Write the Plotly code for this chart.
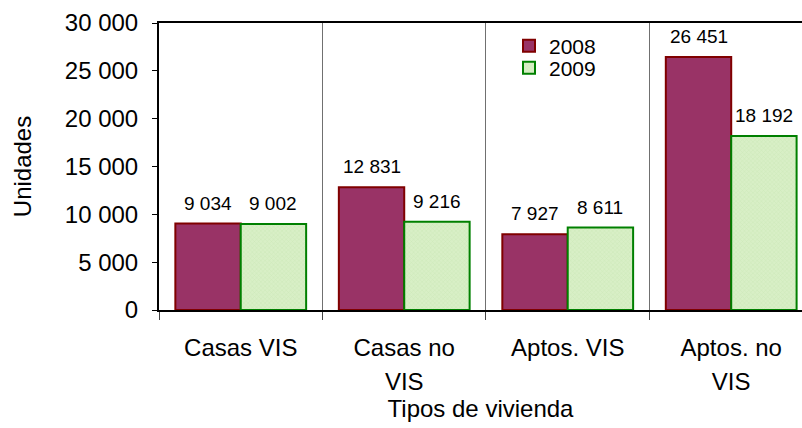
import plotly.graph_objects as go

categories = ["Casas VIS", "Casas no VIS", "Aptos. VIS", "Aptos. no VIS"]
tick_line1 = ["Casas VIS", "Casas no", "Aptos. VIS", "Aptos. no"]
tick_line2 = ["", "VIS", "", "VIS"]
series_names = ["2008", "2009"]
values_2008 = [9034, 12831, 7927, 26451]
values_2009 = [9002, 9216, 8611, 18192]
y_ticks = [0, 5000, 10000, 15000, 20000, 25000, 30000]

FONT = "Liberation Sans, Arial, sans-serif"
W, H = 802, 428
L, R, T, B = 159, 0, 23, 118
plot_w = W - L - R
plot_h = H - T - B
x_range = [-0.5, 3.433]
cat_px = plot_w / (x_range[1] - x_range[0])
bargap = 0.2
bar_px = cat_px * (1 - bargap) / 2

fig = go.Figure()
fig.add_trace(go.Bar(
    x=categories, y=values_2008, name=series_names[0], legend="legend",
    marker=dict(color="#993366", line=dict(color="#800000", width=2)),
))
fig.add_trace(go.Bar(
    x=categories, y=values_2009, name=series_names[1], legend="legend2",
    marker=dict(color="#d4ecc0", line=dict(color="#008000", width=2),
                pattern=dict(shape="x", fgcolor="#bcdca4", bgcolor="#d8efc6", size=3, solidity=0.25)),
))

annotations = []
for vals, shift in ((values_2008, -bar_px / 2), (values_2009, bar_px / 2)):
    for c, v in zip(categories, vals):
        annotations.append(dict(
            x=c, y=v, xref="x", yref="y", text=f"{v:,}".replace(",", " "),
            showarrow=False, xshift=shift, yshift=8, yanchor="bottom",
            font=dict(family=FONT, size=19, color="black"),
        ))

fig.update_layout(
    width=W, height=H,
    margin=dict(l=L, r=R, t=T, b=B, autoexpand=False),
    paper_bgcolor="white", plot_bgcolor="white",
    font=dict(family=FONT, size=24, color="black"),
    separators=", ",
    barmode="group", bargap=bargap, bargroupgap=0,
    annotations=annotations,
    legend=dict(x=(509 - L) / plot_w, y=(310 - 46) / plot_h, xanchor="left", yanchor="middle",
                bgcolor="rgba(0,0,0,0)", font=dict(size=21), borderwidth=0),
    legend2=dict(x=(509 - L) / plot_w, y=(310 - 68) / plot_h, xanchor="left", yanchor="middle",
                 bgcolor="rgba(0,0,0,0)", font=dict(size=21), borderwidth=0),
    xaxis=dict(
        type="category", range=x_range, tickson="boundaries",
        tickmode="array", tickvals=categories, ticktext=tick_line1,
        ticks="outside", ticklen=8, tickcolor="#444444", tickwidth=1,
        showgrid=True, gridcolor="#707070", gridwidth=1,
        showline=True, linecolor="black", linewidth=2, mirror=True,
        ticklabelstandoff=15, automargin=False,
        tickfont=dict(size=24),
        title=dict(text="Tipos de vivienda", font=dict(size=24), standoff=40),
    ),
    xaxis2=dict(
        overlaying="x", anchor="y", side="bottom", type="linear", range=x_range,
        tickmode="array", tickvals=[0, 1, 2, 3], ticktext=tick_line2,
        ticks="", showgrid=False, showline=False, zeroline=False,
        ticklabelstandoff=55, automargin=False,
        tickfont=dict(size=24),
    ),
    yaxis=dict(
        range=[0, 30000], tickmode="array", tickvals=y_ticks, tickformat=",d",
        ticks="outside", ticklen=5, tickcolor="black", tickwidth=1,
        showgrid=False, zeroline=False,
        showline=True, linecolor="black", linewidth=2,
        ticklabelstandoff=9,
        automargin=False, tickfont=dict(size=24),
        title=dict(text="Unidades", font=dict(size=24), standoff=26),
    ),
)
# invisible helper trace so the second x axis (second label line) is drawn
fig.add_trace(go.Scatter(x=[0], y=[0], xaxis="x2", yaxis="y", mode="markers",
                         marker=dict(opacity=0), showlegend=False, hoverinfo="skip"))

fig.write_html(
    "out.html",
    config={"displayModeBar": False},
    post_script="document.body.style.margin='0px';document.body.style.padding='0px';document.body.style.overflow='hidden';",
)
